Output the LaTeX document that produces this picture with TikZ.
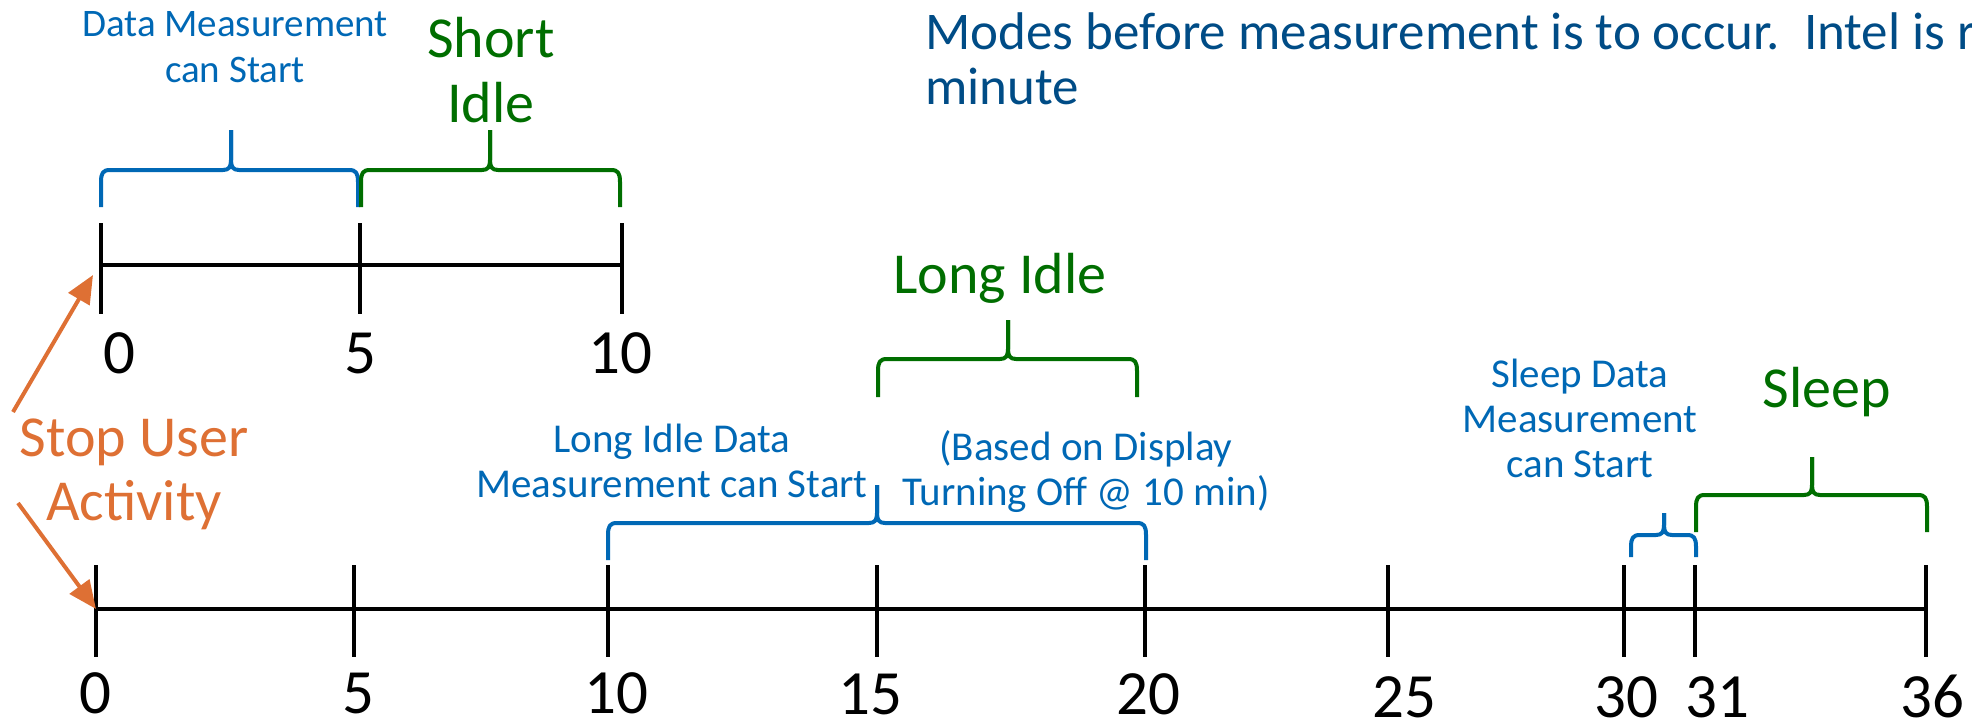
\documentclass[tikz,border=0pt]{standalone}
\usepackage{fontspec}
\setmainfont{Carlito}
\usetikzlibrary{arrows.meta}
\definecolor{tblue}{RGB}{0,104,181}
\definecolor{tdark}{RGB}{0,76,134}
\definecolor{tgreen}{RGB}{0,110,0}
\definecolor{torange}{RGB}{222,112,52}
\newcommand{\fs}[1]{\fontsize{#1}{#1}\selectfont}
% #1 colour, #2 x1, #3 x2, #4 x tip, #5 y tip, #6 y flat, #7 y end
\newcommand{\tlbrace}[7]{%
  \draw[#1, bracestroke]
    (#2,#7) -- (#2,#6+12) .. controls (#2,#6+3) and (#2+2,#6) .. (#2+9,#6)
    -- (#4-8,#6) .. controls (#4-2,#6) and (#4,#6-3) .. (#4,#6-10) -- (#4,#5);
  \draw[#1, bracestroke]
    (#3,#7) -- (#3,#6+12) .. controls (#3,#6+3) and (#3-2,#6) .. (#3-9,#6)
    -- (#4+8,#6) .. controls (#4+2,#6) and (#4,#6-3) .. (#4,#6-10) -- (#4,#5);
}
\begin{document}
\begin{tikzpicture}[x=1pt,y=-1pt,
  lbl/.style={inner sep=0pt, anchor=base},
  axisline/.style={line width=4.5pt, black},
  tickline/.style={line width=4.5pt, black},
  bracestroke/.style={line width=4pt, line join=round},
  num/.style={lbl, font=\fs{63}},
  bluetxt/.style={lbl, text=tblue, font=\fs{41}},
  greentxt/.style={lbl, text=tgreen, font=\fs{58}},
  arr/.style={torange, line width=4pt, -{Triangle[length=28pt,width=24pt]}},
]
\useasboundingbox (0,0) rectangle (1972,725);

% note text (cut off at the right edge)
\node[lbl, anchor=base west, text=tdark, font=\fs{53}] (note1) at (925,49) {Modes before measurement is to occur.\ \ Intel is r};
\node[lbl, anchor=base west, text=tdark, font=\fs{53}] (note2) at (925,104) {minute};

% top timeline
\coordinate (t0) at (101,265);
\coordinate (t5) at (360,265);
\coordinate (t10) at (622,265);
\draw[axisline] (t0) -- (t10);
\foreach \c in {t0,t5,t10} \draw[tickline] ([yshift=42pt]\c) -- ([yshift=-49pt]\c);
\node[num] (n0a) at (119,373) {0};
\node[num] (n5a) at (360,373) {5};
\node[num] (n10a) at (620,373) {10};

% bottom timeline
\coordinate (b0) at (96,609);
\coordinate (b5) at (354,609);
\coordinate (b10) at (608,609);
\coordinate (b15) at (877,609);
\coordinate (b20) at (1145,609);
\coordinate (b25) at (1388,609);
\coordinate (b30) at (1624,609);
\coordinate (b31) at (1695,609);
\coordinate (b36) at (1926,609);
\draw[axisline] (b0) -- (b36);
\foreach \c in {b0,b5,b10,b15,b20,b25,b30,b31,b36} \draw[tickline] ([yshift=44pt]\c) -- ([yshift=-48pt]\c);
\node[num] (n0b) at (95,713) {0};
\node[num] (n5b) at (358,713) {5};
\node[num] (n10b) at (616,713) {10};
\node[num] (n15b) at (870,714) {15};
\node[num] (n20b) at (1148,714) {20};
\node[num] (n25b) at (1404,717) {25};
\node[num] (n30b) at (1626,717) {30};
\node[num] (n31b) at (1717,717) {31};
\node[num] (n36b) at (1932,717) {36};

% braces
\tlbrace{tblue}{101}{358}{231}{130}{170}{207}
\tlbrace{tgreen}{361}{620}{490}{130}{170}{207}
\tlbrace{tgreen}{878}{1137}{1008}{320}{359}{397}
\tlbrace{tblue}{608}{1146}{877}{485}{523}{560}
\tlbrace{tblue}{1631}{1696}{1664}{513}{535}{557}
\tlbrace{tgreen}{1696}{1927}{1812}{457}{495}{532}

% labels
\node[bluetxt, font=\fs{39}] (dm1) at (235,37) {Data Measurement};
\node[bluetxt, font=\fs{39}] (dm2) at (235,82) {can Start};
\node[greentxt] (si1) at (491,57) {Short};
\node[greentxt] (si2) at (491,122) {Idle};
\node[greentxt] (li) at (1000,293) {Long Idle};
\node[bluetxt] (ld1) at (672,452) {Long Idle Data};
\node[bluetxt] (ld2) at (672,497) {Measurement can Start};
\node[bluetxt] (bd1) at (1086,460) {(Based on Display};
\node[bluetxt] (bd2) at (1086,505) {Turning Off @ 10 min)};
\node[bluetxt] (sd1) at (1580,387) {Sleep Data};
\node[bluetxt] (sd2) at (1580,432) {Measurement};
\node[bluetxt] (sd3) at (1580,477) {can Start};
\node[greentxt] (sl) at (1827,407) {Sleep};

% stop user activity
\node[lbl, text=torange, font=\fs{58}] (stop1) at (134,456) {Stop User};
\node[lbl, text=torange, font=\fs{58}] (stop2) at (134,520) {Activity};
\coordinate (s1) at (13,412);
\coordinate (a1) at (93,275);
\coordinate (s2) at (18,503);
\draw[arr] (s1) -- (a1);
\draw[arr] (s2) -- (b0);
\end{tikzpicture}
\end{document}
